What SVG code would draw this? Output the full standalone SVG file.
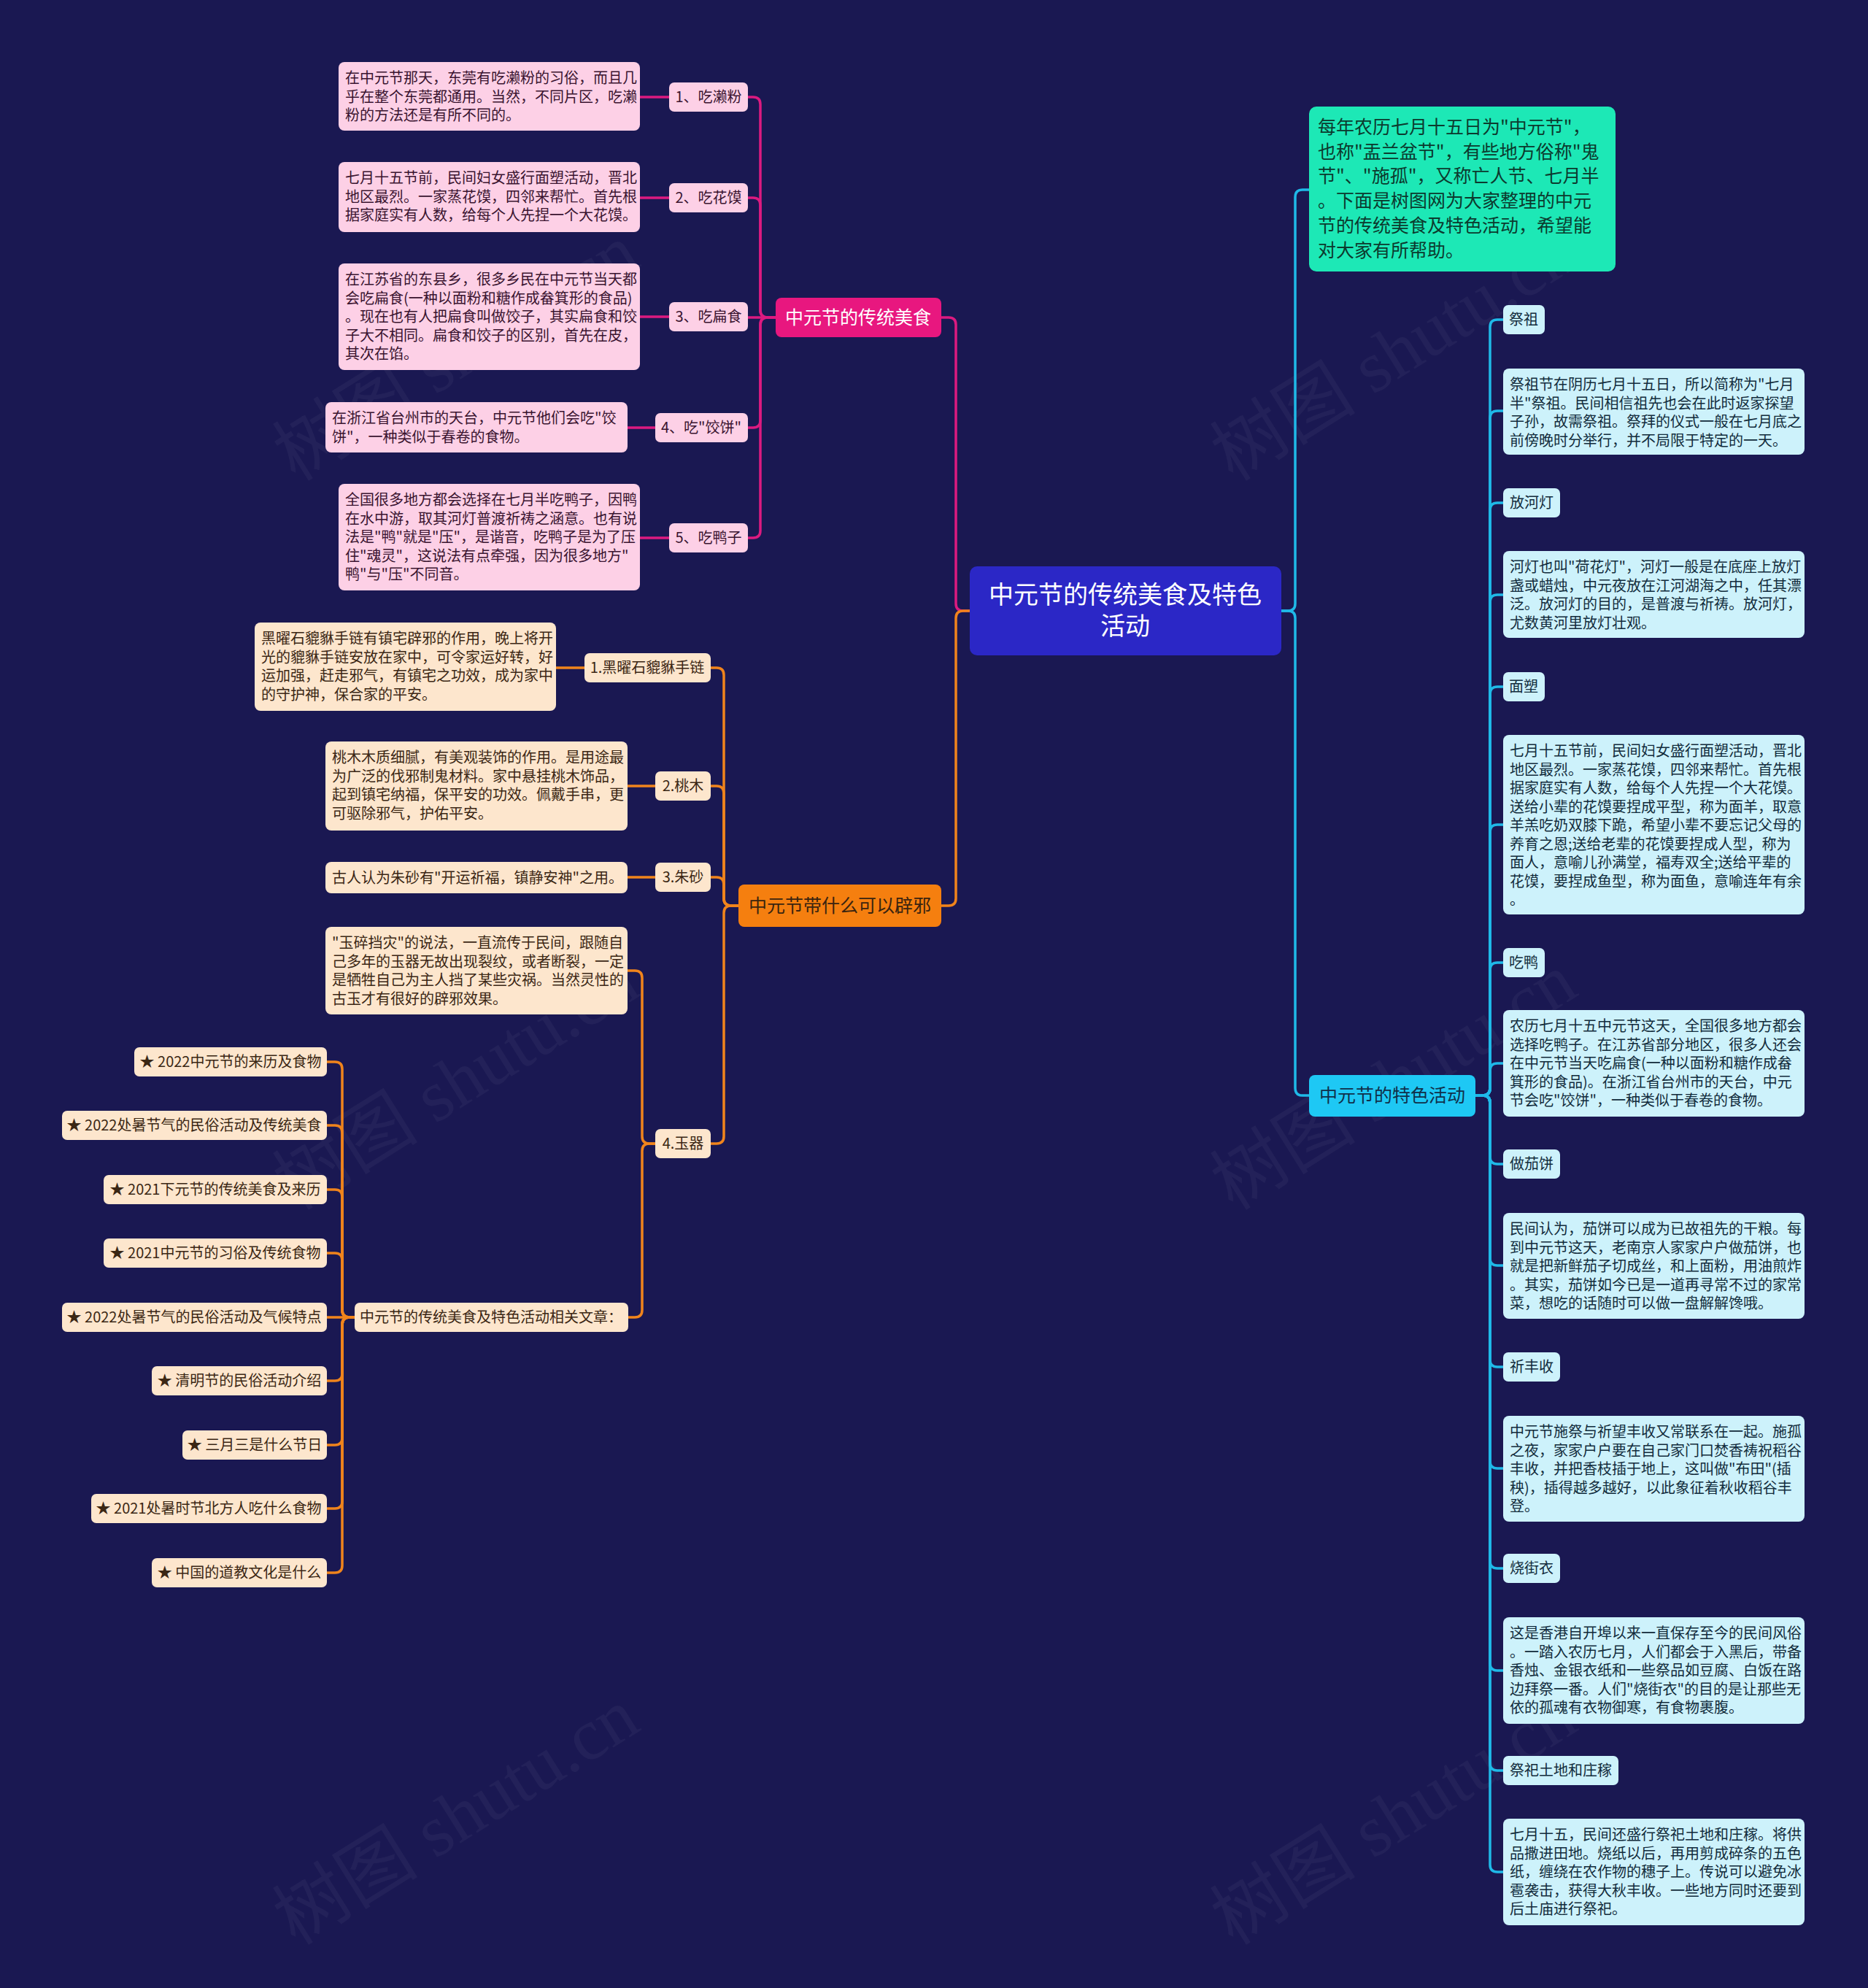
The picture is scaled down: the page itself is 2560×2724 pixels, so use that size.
<svg xmlns="http://www.w3.org/2000/svg" width="2560" height="2724" viewBox="0 0 2560 2724">
<style>
text{font-family:"Noto Sans CJK SC","Noto Sans",sans-serif}
.t{font-size:20px}
.tp{fill:#3a1430}
.to{fill:#3b2714}
.tc{fill:#122c3c}
.pk{fill:#fdd0e6}
.pe{fill:#fde6cd}
.cy{fill:#cdf2fb}
.ln{fill:none;stroke-width:3.5;stroke-linecap:round;stroke-linejoin:round}
.lp{stroke:#dc1a80}
.lo{stroke:#f0841c}
.lc{stroke:#1fb9e8}
.wm{font-family:"Liberation Serif","Noto Sans CJK SC",serif;font-size:100px;fill:#ffffff;fill-opacity:0.045}
.m{text-anchor:middle}
</style>
<rect width="2560" height="2724" fill="#1a1852"/>
<g id="watermarks">
<text class="wm" transform="translate(643 512) rotate(-32)" text-anchor="middle">树图 shutu.cn</text>
<text class="wm" transform="translate(1928 512) rotate(-32)" text-anchor="middle">树图 shutu.cn</text>
<text class="wm" transform="translate(643 1511) rotate(-32)" text-anchor="middle">树图 shutu.cn</text>
<text class="wm" transform="translate(1928 1511) rotate(-32)" text-anchor="middle">树图 shutu.cn</text>
<text class="wm" transform="translate(643 2518) rotate(-32)" text-anchor="middle">树图 shutu.cn</text>
<text class="wm" transform="translate(1928 2518) rotate(-32)" text-anchor="middle">树图 shutu.cn</text>
</g>
<g id="connectors">
<path class="ln lc" d="M1756 837H1765Q1775 837 1775 827V270Q1775 260 1785 260H1794"/>
<path class="ln lc" d="M1756 837H1765Q1775 837 1775 847V1491Q1775 1501 1785 1501H1794"/>
<path class="ln lp" d="M1329 837H1320Q1310 837 1310 827V445Q1310 435 1300 435H1290"/>
<path class="ln lo" d="M1329 837H1320Q1310 837 1310 847V1231Q1310 1241 1300 1241H1290"/>
<path class="ln lp" d="M1063 435H1052Q1042 435 1042 425V143Q1042 133 1032 133H1025"/>
<path class="ln lp" d="M1063 435H1052Q1042 435 1042 425V281Q1042 271 1032 271H1025"/>
<path class="ln lp" d="M1063 435H1025"/>
<path class="ln lp" d="M1063 435H1052Q1042 435 1042 445V576Q1042 586 1032 586H1025"/>
<path class="ln lp" d="M1063 435H1052Q1042 435 1042 445V727Q1042 737 1032 737H1025"/>
<path class="ln lp" d="M917 133H877M917 271H877M917 434H877M898 586H860M917 737H877"/>
<path class="ln lo" d="M1012 1241H1002Q992 1241 992 1231V925Q992 915 982 915H974"/>
<path class="ln lo" d="M1012 1241H1002Q992 1241 992 1231V1087Q992 1077 982 1077H974"/>
<path class="ln lo" d="M1012 1241H1002Q992 1241 992 1231V1212Q992 1202 982 1202H974"/>
<path class="ln lo" d="M1012 1241H1002Q992 1241 992 1251V1557Q992 1567 982 1567H974"/>
<path class="ln lo" d="M801 915H762M898 1077H860M898 1202H860"/>
<path class="ln lo" d="M898 1567H890Q880 1567 880 1557V1340Q880 1330 870 1330H860"/>
<path class="ln lo" d="M898 1567H890Q880 1567 880 1577V1795Q880 1805 870 1805H861"/>
<path class="ln lo" d="M486 1805H479Q469 1805 469 1795V1465Q469 1455 459 1455H448"/>
<path class="ln lo" d="M486 1805H479Q469 1805 469 1795V1552Q469 1542 459 1542H448"/>
<path class="ln lo" d="M486 1805H479Q469 1805 469 1795V1640Q469 1630 459 1630H448"/>
<path class="ln lo" d="M486 1805H479Q469 1805 469 1795V1727Q469 1717 459 1717H448"/>
<path class="ln lo" d="M486 1805H448"/>
<path class="ln lo" d="M486 1805H479Q469 1805 469 1815V1882Q469 1892 459 1892H448"/>
<path class="ln lo" d="M486 1805H479Q469 1805 469 1815V1970Q469 1980 459 1980H448"/>
<path class="ln lo" d="M486 1805H479Q469 1805 469 1815V2057Q469 2067 459 2067H448"/>
<path class="ln lo" d="M486 1805H479Q469 1805 469 1815V2145Q469 2155 459 2155H448"/>
<path class="ln lc" d="M2022 1501H2032Q2042 1501 2042 1491V448Q2042 438 2052 438H2060"/>
<path class="ln lc" d="M2022 1501H2032Q2042 1501 2042 1491V573Q2042 563 2052 563H2060"/>
<path class="ln lc" d="M2022 1501H2032Q2042 1501 2042 1491V699Q2042 689 2052 689H2060"/>
<path class="ln lc" d="M2022 1501H2032Q2042 1501 2042 1491V825Q2042 815 2052 815H2060"/>
<path class="ln lc" d="M2022 1501H2032Q2042 1501 2042 1491V951Q2042 941 2052 941H2060"/>
<path class="ln lc" d="M2022 1501H2032Q2042 1501 2042 1491V1140Q2042 1130 2052 1130H2060"/>
<path class="ln lc" d="M2022 1501H2032Q2042 1501 2042 1491V1329Q2042 1319 2052 1319H2060"/>
<path class="ln lc" d="M2022 1501H2032Q2042 1501 2042 1491V1467Q2042 1457 2052 1457H2060"/>
<path class="ln lc" d="M2022 1501H2032Q2042 1501 2042 1511V1585Q2042 1595 2052 1595H2060"/>
<path class="ln lc" d="M2022 1501H2032Q2042 1501 2042 1511V1724Q2042 1734 2052 1734H2060"/>
<path class="ln lc" d="M2022 1501H2032Q2042 1501 2042 1511V1863Q2042 1873 2052 1873H2060"/>
<path class="ln lc" d="M2022 1501H2032Q2042 1501 2042 1511V2002Q2042 2012 2052 2012H2060"/>
<path class="ln lc" d="M2022 1501H2032Q2042 1501 2042 1511V2139Q2042 2149 2052 2149H2060"/>
<path class="ln lc" d="M2022 1501H2032Q2042 1501 2042 1511V2279Q2042 2289 2052 2289H2060"/>
<path class="ln lc" d="M2022 1501H2032Q2042 1501 2042 1511V2416Q2042 2426 2052 2426H2060"/>
<path class="ln lc" d="M2022 1501H2032Q2042 1501 2042 1511V2555Q2042 2565 2052 2565H2060"/>
</g>
<g id="center">
<rect x="1329" y="776" width="427" height="122" rx="10" fill="#2b27c6"/>
<text class="m" x="1542" y="827" font-size="34" fill="#ffffff">中元节的传统美食及特色</text>
<text class="m" x="1542" y="870" font-size="34" fill="#ffffff">活动</text>
</g>
<g id="intro">
<rect x="1794" y="146" width="420" height="226" rx="10" fill="#1de8b6"/>
<text x="1806" y="183" font-size="25" fill="#0c3a2e"><tspan x="1806">每年农历七月十五日为"中元节"，</tspan><tspan x="1806" dy="33.7">也称"盂兰盆节"，有些地方俗称"鬼</tspan><tspan x="1806" dy="33.7">节"、"施孤"，又称亡人节、七月半</tspan><tspan x="1806" dy="33.7">。下面是树图网为大家整理的中元</tspan><tspan x="1806" dy="33.7">节的传统美食及特色活动，希望能</tspan><tspan x="1806" dy="33.7">对大家有所帮助。</tspan></text>
</g>
<g id="food">
<rect x="1063" y="408" width="227" height="54" rx="8" fill="#e8177f"/>
<text class="m" x="1176" y="444" font-size="25" fill="#ffffff">中元节的传统美食</text>
</g>
<g id="food-1">
<rect class="pk" x="917" y="113" width="108" height="40" rx="7"/>
<text class="t tp m" x="971" y="140">1、吃濑粉</text>
<rect class="pk" x="464" y="85" width="413" height="94" rx="8"/>
<text class="t tp" y="114"><tspan x="473">在中元节那天，东莞有吃濑粉的习俗，而且几</tspan><tspan x="473" dy="25.5">乎在整个东莞都通用。当然，不同片区，吃濑</tspan><tspan x="473" dy="25.5">粉的方法还是有所不同的。</tspan></text>
</g>
<g id="food-2">
<rect class="pk" x="917" y="251" width="108" height="40" rx="7"/>
<text class="t tp m" x="971" y="278">2、吃花馍</text>
<rect class="pk" x="464" y="222" width="413" height="96" rx="8"/>
<text class="t tp" y="251"><tspan x="473">七月十五节前，民间妇女盛行面塑活动，晋北</tspan><tspan x="473" dy="25.5">地区最烈。一家蒸花馍，四邻来帮忙。首先根</tspan><tspan x="473" dy="25.5">据家庭实有人数，给每个人先捏一个大花馍。</tspan></text>
</g>
<g id="food-3">
<rect class="pk" x="917" y="414" width="108" height="40" rx="7"/>
<text class="t tp m" x="971" y="441">3、吃扁食</text>
<rect class="pk" x="464" y="361" width="413" height="146" rx="8"/>
<text class="t tp" y="390"><tspan x="473">在江苏省的东县乡，很多乡民在中元节当天都</tspan><tspan x="473" dy="25.5">会吃扁食(一种以面粉和糖作成畚箕形的食品)</tspan><tspan x="473" dy="25.5">。现在也有人把扁食叫做饺子，其实扁食和饺</tspan><tspan x="473" dy="25.5">子大不相同。扁食和饺子的区别，首先在皮，</tspan><tspan x="473" dy="25.5">其次在馅。</tspan></text>
</g>
<g id="food-4">
<rect class="pk" x="898" y="566" width="127" height="40" rx="7"/>
<text class="t tp m" x="961" y="593">4、吃"饺饼"</text>
<rect class="pk" x="446" y="551" width="414" height="69" rx="8"/>
<text class="t tp" y="580"><tspan x="455">在浙江省台州市的天台，中元节他们会吃"饺</tspan><tspan x="455" dy="25.5">饼"，一种类似于春卷的食物。</tspan></text>
</g>
<g id="food-5">
<rect class="pk" x="917" y="717" width="108" height="40" rx="7"/>
<text class="t tp m" x="971" y="744">5、吃鸭子</text>
<rect class="pk" x="464" y="663" width="413" height="146" rx="8"/>
<text class="t tp" y="692"><tspan x="473">全国很多地方都会选择在七月半吃鸭子，因鸭</tspan><tspan x="473" dy="25.5">在水中游，取其河灯普渡祈祷之涵意。也有说</tspan><tspan x="473" dy="25.5">法是"鸭"就是"压"，是谐音，吃鸭子是为了压</tspan><tspan x="473" dy="25.5">住"魂灵"，这说法有点牵强，因为很多地方"</tspan><tspan x="473" dy="25.5">鸭"与"压"不同音。</tspan></text>
</g>
<g id="evil">
<rect x="1012" y="1212" width="278" height="58" rx="8" fill="#f57f0f"/>
<text class="m" x="1151" y="1250" font-size="25" fill="#3a2410">中元节带什么可以辟邪</text>
</g>
<g id="evil-1">
<rect class="pe" x="801" y="895" width="173" height="40" rx="7"/>
<text class="t to m" x="887" y="922">1.黑曜石貔貅手链</text>
<rect class="pe" x="349" y="853" width="413" height="121" rx="8"/>
<text class="t to" y="882"><tspan x="358">黑曜石貔貅手链有镇宅辟邪的作用，晚上将开</tspan><tspan x="358" dy="25.5">光的貔貅手链安放在家中，可令家运好转，好</tspan><tspan x="358" dy="25.5">运加强，赶走邪气，有镇宅之功效，成为家中</tspan><tspan x="358" dy="25.5">的守护神，保合家的平安。</tspan></text>
</g>
<g id="evil-2">
<rect class="pe" x="898" y="1057" width="76" height="40" rx="7"/>
<text class="t to m" x="936" y="1084">2.桃木</text>
<rect class="pe" x="446" y="1016" width="414" height="122" rx="8"/>
<text class="t to" y="1045"><tspan x="455">桃木木质细腻，有美观装饰的作用。是用途最</tspan><tspan x="455" dy="25.5">为广泛的伐邪制鬼材料。家中悬挂桃木饰品，</tspan><tspan x="455" dy="25.5">起到镇宅纳福，保平安的功效。佩戴手串，更</tspan><tspan x="455" dy="25.5">可驱除邪气，护佑平安。</tspan></text>
</g>
<g id="evil-3">
<rect class="pe" x="898" y="1182" width="76" height="40" rx="7"/>
<text class="t to m" x="936" y="1209">3.朱砂</text>
<rect class="pe" x="446" y="1181" width="414" height="43" rx="8"/>
<text class="t to" x="455" y="1210">古人认为朱砂有"开运祈福，镇静安神"之用。</text>
</g>
<g id="evil-4">
<rect class="pe" x="898" y="1547" width="76" height="40" rx="7"/>
<text class="t to m" x="936" y="1574">4.玉器</text>
<rect class="pe" x="446" y="1270" width="414" height="120" rx="8"/>
<text class="t to" y="1299"><tspan x="455">"玉碎挡灾"的说法，一直流传于民间，跟随自</tspan><tspan x="455" dy="25.5">己多年的玉器无故出现裂纹，或者断裂，一定</tspan><tspan x="455" dy="25.5">是牺牲自己为主人挡了某些灾祸。当然灵性的</tspan><tspan x="455" dy="25.5">古玉才有很好的辟邪效果。</tspan></text>
</g>
<g id="related">
<rect class="pe" x="486" y="1785" width="375" height="40" rx="7"/>
<text class="t to m" x="673" y="1812">中元节的传统美食及特色活动相关文章：</text>
</g>
<g id="related-items">
<rect class="pe" x="184" y="1435" width="264" height="40" rx="7"/>
<text class="t to m" x="316" y="1462">★ 2022中元节的来历及食物</text>
<rect class="pe" x="85" y="1522" width="363" height="40" rx="7"/>
<text class="t to m" x="266" y="1549">★ 2022处暑节气的民俗活动及传统美食</text>
<rect class="pe" x="142" y="1610" width="306" height="40" rx="7"/>
<text class="t to m" x="295" y="1637">★ 2021下元节的传统美食及来历</text>
<rect class="pe" x="142" y="1697" width="306" height="40" rx="7"/>
<text class="t to m" x="295" y="1724">★ 2021中元节的习俗及传统食物</text>
<rect class="pe" x="85" y="1785" width="363" height="40" rx="7"/>
<text class="t to m" x="266" y="1812">★ 2022处暑节气的民俗活动及气候特点</text>
<rect class="pe" x="208" y="1872" width="240" height="40" rx="7"/>
<text class="t to m" x="328" y="1899">★ 清明节的民俗活动介绍</text>
<rect class="pe" x="250" y="1960" width="198" height="40" rx="7"/>
<text class="t to m" x="349" y="1987">★ 三月三是什么节日</text>
<rect class="pe" x="125" y="2047" width="323" height="40" rx="7"/>
<text class="t to m" x="286" y="2074">★ 2021处暑时节北方人吃什么食物</text>
<rect class="pe" x="208" y="2135" width="240" height="40" rx="7"/>
<text class="t to m" x="328" y="2162">★ 中国的道教文化是什么</text>
</g>
<g id="activities">
<rect x="1794" y="1473" width="228" height="57" rx="8" fill="#1ec8f4"/>
<text class="m" x="1908" y="1510" font-size="25" fill="#10304a">中元节的特色活动</text>
</g>
<g id="act-1">
<rect class="cy" x="2060" y="418" width="57" height="40" rx="7"/>
<text class="t tc m" x="2088" y="445">祭祖</text>
<rect class="cy" x="2060" y="505" width="413" height="118" rx="8"/>
<text class="t tc" y="534"><tspan x="2069">祭祖节在阴历七月十五日，所以简称为"七月</tspan><tspan x="2069" dy="25.5">半"祭祖。民间相信祖先也会在此时返家探望</tspan><tspan x="2069" dy="25.5">子孙，故需祭祖。祭拜的仪式一般在七月底之</tspan><tspan x="2069" dy="25.5">前傍晚时分举行，并不局限于特定的一天。</tspan></text>
</g>
<g id="act-2">
<rect class="cy" x="2060" y="669" width="78" height="40" rx="7"/>
<text class="t tc m" x="2099" y="696">放河灯</text>
<rect class="cy" x="2060" y="755" width="413" height="119" rx="8"/>
<text class="t tc" y="784"><tspan x="2069">河灯也叫"荷花灯"，河灯一般是在底座上放灯</tspan><tspan x="2069" dy="25.5">盏或蜡烛，中元夜放在江河湖海之中，任其漂</tspan><tspan x="2069" dy="25.5">泛。放河灯的目的，是普渡与祈祷。放河灯，</tspan><tspan x="2069" dy="25.5">尤数黄河里放灯壮观。</tspan></text>
</g>
<g id="act-3">
<rect class="cy" x="2060" y="921" width="57" height="40" rx="7"/>
<text class="t tc m" x="2088" y="948">面塑</text>
<rect class="cy" x="2060" y="1007" width="413" height="246" rx="8"/>
<text class="t tc" y="1036"><tspan x="2069">七月十五节前，民间妇女盛行面塑活动，晋北</tspan><tspan x="2069" dy="25.5">地区最烈。一家蒸花馍，四邻来帮忙。首先根</tspan><tspan x="2069" dy="25.5">据家庭实有人数，给每个人先捏一个大花馍。</tspan><tspan x="2069" dy="25.5">送给小辈的花馍要捏成平型，称为面羊，取意</tspan><tspan x="2069" dy="25.5">羊羔吃奶双膝下跪，希望小辈不要忘记父母的</tspan><tspan x="2069" dy="25.5">养育之恩;送给老辈的花馍要捏成人型，称为</tspan><tspan x="2069" dy="25.5">面人，意喻儿孙满堂，福寿双全;送给平辈的</tspan><tspan x="2069" dy="25.5">花馍，要捏成鱼型，称为面鱼，意喻连年有余</tspan><tspan x="2069" dy="25.5">。</tspan></text>
</g>
<g id="act-4">
<rect class="cy" x="2060" y="1299" width="57" height="40" rx="7"/>
<text class="t tc m" x="2088" y="1326">吃鸭</text>
<rect class="cy" x="2060" y="1384" width="413" height="146" rx="8"/>
<text class="t tc" y="1413"><tspan x="2069">农历七月十五中元节这天，全国很多地方都会</tspan><tspan x="2069" dy="25.5">选择吃鸭子。在江苏省部分地区，很多人还会</tspan><tspan x="2069" dy="25.5">在中元节当天吃扁食(一种以面粉和糖作成畚</tspan><tspan x="2069" dy="25.5">箕形的食品)。在浙江省台州市的天台，中元</tspan><tspan x="2069" dy="25.5">节会吃"饺饼"，一种类似于春卷的食物。</tspan></text>
</g>
<g id="act-5">
<rect class="cy" x="2060" y="1575" width="78" height="40" rx="7"/>
<text class="t tc m" x="2099" y="1602">做茄饼</text>
<rect class="cy" x="2060" y="1662" width="413" height="145" rx="8"/>
<text class="t tc" y="1691"><tspan x="2069">民间认为，茄饼可以成为已故祖先的干粮。每</tspan><tspan x="2069" dy="25.5">到中元节这天，老南京人家家户户做茄饼，也</tspan><tspan x="2069" dy="25.5">就是把新鲜茄子切成丝，和上面粉，用油煎炸</tspan><tspan x="2069" dy="25.5">。其实，茄饼如今已是一道再寻常不过的家常</tspan><tspan x="2069" dy="25.5">菜，想吃的话随时可以做一盘解解馋哦。</tspan></text>
</g>
<g id="act-6">
<rect class="cy" x="2060" y="1853" width="78" height="40" rx="7"/>
<text class="t tc m" x="2099" y="1880">祈丰收</text>
<rect class="cy" x="2060" y="1940" width="413" height="145" rx="8"/>
<text class="t tc" y="1969"><tspan x="2069">中元节施祭与祈望丰收又常联系在一起。施孤</tspan><tspan x="2069" dy="25.5">之夜，家家户户要在自己家门口焚香祷祝稻谷</tspan><tspan x="2069" dy="25.5">丰收，并把香枝插于地上，这叫做"布田"(插</tspan><tspan x="2069" dy="25.5">秧)，插得越多越好，以此象征着秋收稻谷丰</tspan><tspan x="2069" dy="25.5">登。</tspan></text>
</g>
<g id="act-7">
<rect class="cy" x="2060" y="2129" width="78" height="40" rx="7"/>
<text class="t tc m" x="2099" y="2156">烧街衣</text>
<rect class="cy" x="2060" y="2216" width="413" height="146" rx="8"/>
<text class="t tc" y="2245"><tspan x="2069">这是香港自开埠以来一直保存至今的民间风俗</tspan><tspan x="2069" dy="25.5">。一踏入农历七月，人们都会于入黑后，带备</tspan><tspan x="2069" dy="25.5">香烛、金银衣纸和一些祭品如豆腐、白饭在路</tspan><tspan x="2069" dy="25.5">边拜祭一番。人们"烧街衣"的目的是让那些无</tspan><tspan x="2069" dy="25.5">依的孤魂有衣物御寒，有食物裹腹。</tspan></text>
</g>
<g id="act-8">
<rect class="cy" x="2060" y="2406" width="158" height="40" rx="7"/>
<text class="t tc m" x="2139" y="2433">祭祀土地和庄稼</text>
<rect class="cy" x="2060" y="2492" width="413" height="146" rx="8"/>
<text class="t tc" y="2521"><tspan x="2069">七月十五，民间还盛行祭祀土地和庄稼。将供</tspan><tspan x="2069" dy="25.5">品撒进田地。烧纸以后，再用剪成碎条的五色</tspan><tspan x="2069" dy="25.5">纸，缠绕在农作物的穗子上。传说可以避免冰</tspan><tspan x="2069" dy="25.5">雹袭击，获得大秋丰收。一些地方同时还要到</tspan><tspan x="2069" dy="25.5">后土庙进行祭祀。</tspan></text>
</g>
</svg>
